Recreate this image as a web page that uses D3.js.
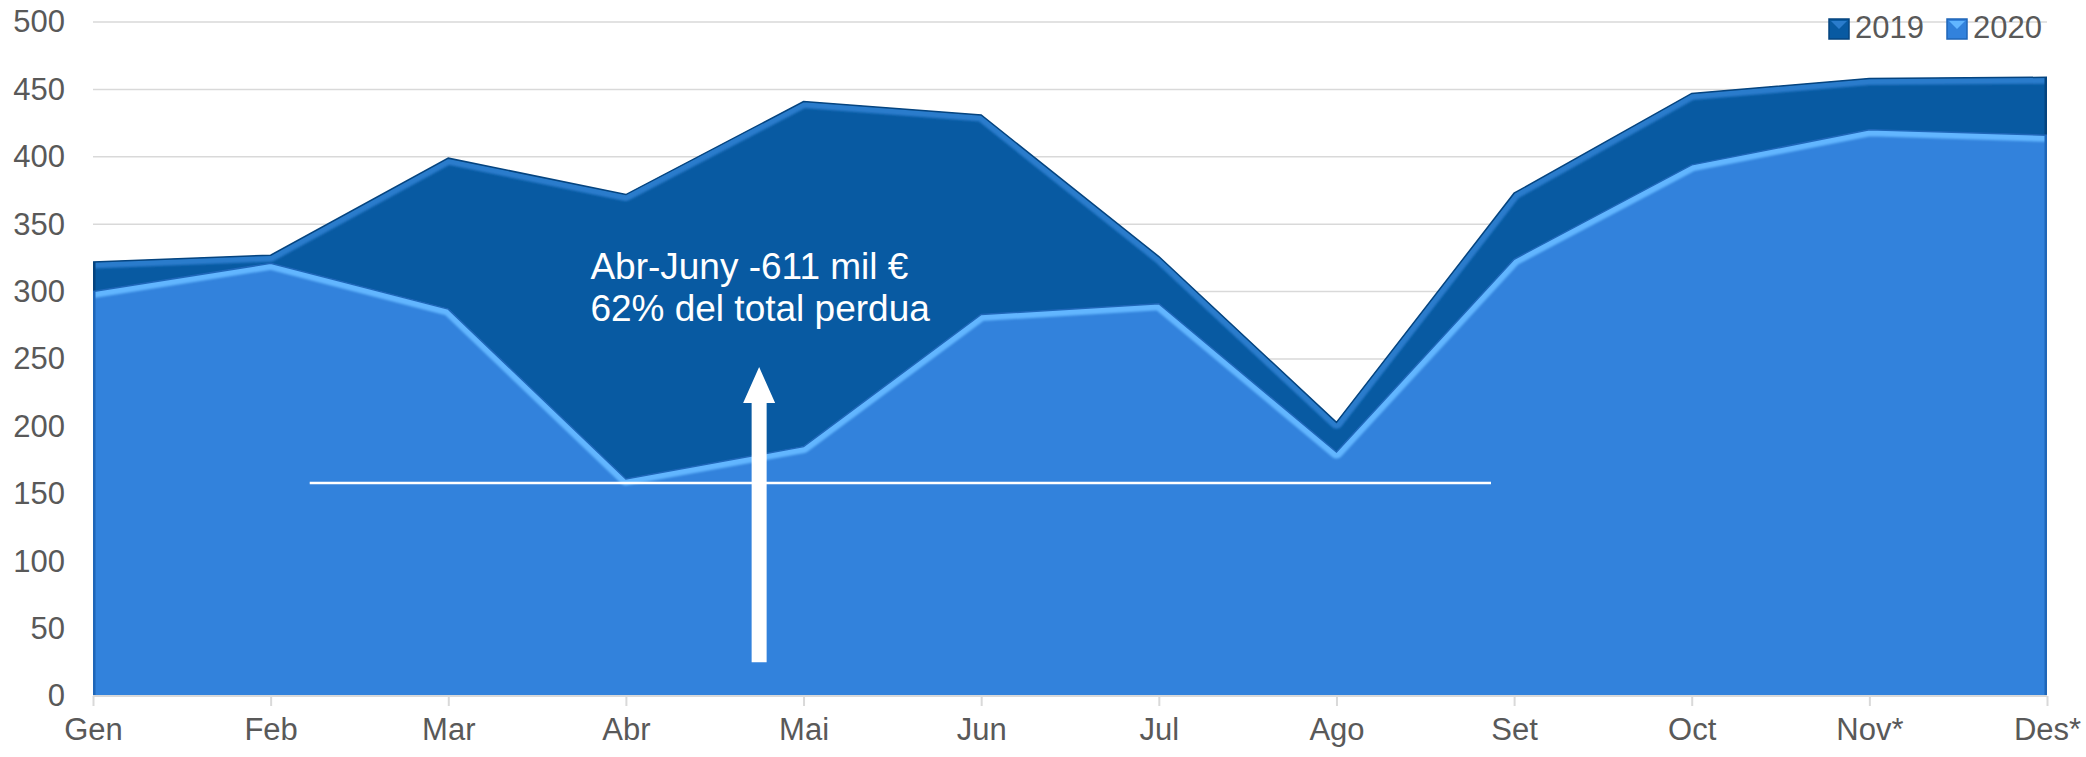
<!DOCTYPE html>
<html>
<head>
<meta charset="utf-8">
<script src="https://cdn.jsdelivr.net/npm/d3@7"></script>
<style>
  body { margin: 0; background: #fff; }
  svg { display: block; font-family: Arial, "Liberation Sans", sans-serif; }
</style>
</head>
<body>
<div id="chart"></div>
<script>
var months = ["Gen", "Feb", "Mar", "Abr", "Mai", "Jun", "Jul", "Ago", "Set", "Oct", "Nov*", "Des*"];
var values2019 = [322, 327, 399, 372, 441, 431, 326, 203, 373, 447, 458, 459];
var values2020 = [300, 321, 287, 161, 185, 283, 291, 181, 324, 394, 420, 416];
var yTicks = [0, 50, 100, 150, 200, 250, 300, 350, 400, 450, 500];
var seriesNames = ["2019", "2020"];

// annotation: text, reference line and arrow (in month index / value units)
var noteLines = ["Abr-Juny -611 mil €", "62% del total perdua"];
var noteAt = [2.8, 309];
var refLine = [1.22, 7.87, 158];
var arrowAt = [3.75, 25, 244];

plot_area_chart("#chart");

function plot_area_chart(htmlObjectId) {
    var width = 2086;
    var height = 757;
    var left = 93, right = 2047, top = 22, bottom = 696;

    var x = d3.scalePoint().domain(months).range([left, right]);
    var xi = d3.scaleLinear().domain([0, months.length - 1]).range([left, right]);
    var y = d3.scaleLinear().domain([0, 500]).range([bottom, top]);

    var colors = { "2019": "#085aa2", "2020": "#3282dc" };
    var light = { "2019": "#2a7ccc", "2020": "#62b6ff" };
    var dark = { "2019": "#05447f", "2020": "#1f66b8" };

    var svg = d3.select(htmlObjectId)
                .append("svg")
                .attr("width", width)
                .attr("height", height);

    var defs = svg.append("defs");
    defs.append("filter").attr("id", "soft")
        .append("feGaussianBlur").attr("stdDeviation", 1.2);

    // gridlines
    svg.append("g")
        .selectAll("line")
        .data(yTicks.slice(1))
        .enter()
            .append("line")
            .attr("x1", left)
            .attr("x2", right)
            .attr("y1", function(d) { return y(d); })
            .attr("y2", function(d) { return y(d); })
            .attr("stroke", "#d9d9d9")
            .attr("stroke-width", 1.5);

    // y axis labels
    var yAxis = d3.axisLeft(y).tickValues(yTicks).tickSize(0).tickPadding(28);
    var gy = svg.append("g").attr("transform", "translate(" + left + ",0)").call(yAxis);
    gy.select(".domain").remove();
    gy.selectAll("text")
        .attr("font-size", 31)
        .attr("font-family", "Arial, 'Liberation Sans', sans-serif")
        .attr("fill", "#595959");

    var series = [
        { name: "2019", values: values2019 },
        { name: "2020", values: values2020 }
    ];

    var area = d3.area()
                 .x(function(d, i) { return x(months[i]); })
                 .y0(y(0))
                 .y1(function(d) { return y(d); });
    var line = d3.line()
                 .x(function(d, i) { return x(months[i]); })
                 .y(function(d) { return y(d); });

    series.forEach(function(s, k) {
        var clipId = "clip" + s.name;
        defs.append("clipPath").attr("id", clipId)
            .append("path").attr("d", area(s.values));

        var g = svg.append("g");
        g.append("path")
            .attr("d", area(s.values))
            .attr("fill", colors[s.name]);

        // bevel: lighter band along the top edge, inside the area
        var bev = g.append("g").attr("clip-path", "url(#" + clipId + ")");
        bev.append("path")
            .attr("d", line(s.values))
            .attr("fill", "none")
            .attr("stroke", light[s.name])
            .attr("stroke-width", 13)
            .attr("stroke-linejoin", "round")
            .attr("filter", "url(#soft)");
        bev.append("line")
            .attr("x1", left).attr("x2", left)
            .attr("y1", y(0)).attr("y2", y(500))
            .attr("stroke", dark[s.name])
            .attr("stroke-width", 5);
        bev.append("line")
            .attr("x1", right).attr("x2", right)
            .attr("y1", y(0)).attr("y2", y(500))
            .attr("stroke", dark[s.name])
            .attr("stroke-width", 5);
        bev.append("line")
            .attr("x1", left).attr("x2", right)
            .attr("y1", y(0)).attr("y2", y(0))
            .attr("stroke", dark[s.name])
            .attr("stroke-opacity", 0.5)
            .attr("stroke-width", 8)
            .attr("filter", "url(#soft)");

        g.append("path")
            .attr("d", line(s.values))
            .attr("fill", "none")
            .attr("stroke", dark[s.name])
            .attr("stroke-width", 1.5)
            .attr("stroke-linejoin", "miter");
    });

    // x axis
    var xAxis = d3.axisBottom(x).tickSize(10).tickPadding(12);
    var gx = svg.append("g").attr("transform", "translate(0," + bottom + ")").call(xAxis);
    gx.select(".domain").attr("stroke", "#d9d9d9").attr("stroke-width", 2)
        .attr("d", "M" + left + ",0H" + right);
    gx.selectAll(".tick line").attr("stroke", "#d9d9d9").attr("stroke-width", 2);
    gx.selectAll("text")
        .attr("font-size", 31)
        .attr("font-family", "Arial, 'Liberation Sans', sans-serif")
        .attr("fill", "#595959");

    // annotation
    svg.append("line")
        .attr("x1", xi(refLine[0]))
        .attr("x2", xi(refLine[1]))
        .attr("y1", y(refLine[2]))
        .attr("y2", y(refLine[2]))
        .attr("stroke", "#ffffff")
        .attr("stroke-width", 2.5);

    var ax = xi(arrowAt[0]);
    var aBottom = y(arrowAt[1]);
    var aTip = y(arrowAt[2]);
    svg.append("path")
        .attr("d", "M" + (ax - 7.5) + "," + aBottom +
                   "V" + (aTip + 36) + "H" + (ax - 16) +
                   "L" + ax + "," + aTip +
                   "L" + (ax + 16) + "," + (aTip + 36) +
                   "H" + (ax + 7.5) + "V" + aBottom + "Z")
        .attr("fill", "#ffffff");

    svg.append("g")
        .selectAll("text")
        .data(noteLines)
        .enter()
            .append("text")
            .attr("x", xi(noteAt[0]))
            .attr("y", function(d, i) { return y(noteAt[1]) + i * 42; })
            .attr("font-size", 37)
            .attr("fill", "#ffffff")
            .text(function(d) { return d; });

    // legend
    var legend = svg.append("g")
                    .selectAll("g")
                    .data(seriesNames)
                    .enter()
                        .append("g")
                        .attr("transform", function(d, i) { return "translate(" + (1829 + i * 118) + ",19)"; });
    legend.append("rect")
        .attr("width", 20).attr("height", 20)
        .attr("fill", function(d) { return colors[d]; })
        .attr("stroke", function(d) { return dark[d]; })
        .attr("stroke-width", 1.5);
    legend.append("path")
        .attr("d", "M2,2L10,10L18,2Z")
        .attr("fill", function(d) { return light[d]; });
    legend.append("text")
        .attr("x", 26)
        .attr("y", 19)
        .attr("font-size", 31)
        .attr("fill", "#595959")
        .text(function(d) { return d; });
}
</script>
</body>
</html>
